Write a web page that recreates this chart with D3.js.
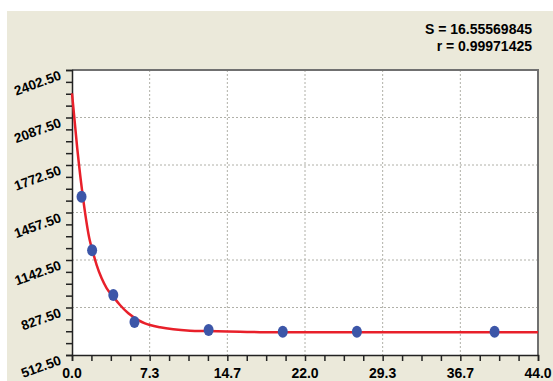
<html>
<head>
    <title>Standard curve</title>
    <script src="https://d3js.org/d3.v7.min.js"></script>
    <style>
        body { margin: 0; background: #fff; }
        text { font-family: "Liberation Sans", Arial, sans-serif; font-weight: bold; fill: #000; }
    </style>
</head>
<body>
    <svg id="chart"></svg>
    <script>
        // measured standards
        var pointX = [0.9, 1.9, 3.9, 5.9, 12.9, 19.9, 26.9, 39.9];
        var pointY = [1562, 1207, 910, 731, 678, 667, 667, 667];
        // fitted curve
        var curveX = [0, 0.5, 1.07, 1.67, 1.92, 2.33, 2.8, 3.28, 3.9, 4.53, 5.32, 6.26, 6.89, 7.36, 8.31, 9.56, 11.14, 12.72, 15.86, 17.75, 30, 44];
        var curveY = [2248, 1880, 1540, 1275, 1209, 1109, 1021, 955, 899, 844, 789, 744, 722, 711, 696, 683, 674, 671, 667, 664, 664, 664];
        var yTicks = [512.5, 827.5, 1142.5, 1457.5, 1772.5, 2087.5, 2402.5];
        var xTicks = [0, 44 / 6, 88 / 6, 22, 176 / 6, 220 / 6, 44];
        var xTickLabels = ["0.0", "7.3", "14.7", "22.0", "29.3", "36.7", "44.0"];
        var statLines = ["S = 16.55569845", "r = 0.99971425"];

        var W = 553, H = 381;
        var pLeft = 72, pTop = 70, pRight = 538, pBottom = 355;

        var svg = d3.select("#chart").attr("width", W).attr("height", H);
        svg.append("rect").attr("x", 7).attr("y", 11).attr("width", W - 7).attr("height", H - 11)
            .attr("fill", "#ebe9da");

        var x = d3.scaleLinear().domain([0, 44]).range([pLeft, pRight]);
        var y = d3.scaleLinear().domain([512.5, 2402.5]).range([pBottom, pTop]);

        svg.append("rect").attr("x", pLeft).attr("y", pTop)
            .attr("width", pRight - pLeft).attr("height", pBottom - pTop).attr("fill", "#fff");

        // grid
        svg.append("g").selectAll("line").data(yTicks.slice(1, -1)).enter().append("line")
            .attr("x1", pLeft).attr("x2", pRight)
            .attr("y1", function (d) { return y(d); }).attr("y2", function (d) { return y(d); })
            .attr("stroke", "#b0b0a8").attr("stroke-dasharray", "2,2");
        svg.append("g").selectAll("line").data(xTicks.slice(1, -1)).enter().append("line")
            .attr("y1", pTop).attr("y2", pBottom)
            .attr("x1", function (d) { return x(d); }).attr("x2", function (d) { return x(d); })
            .attr("stroke", "#b0b0a8").attr("stroke-dasharray", "2,2");

        // frame
        svg.append("path").attr("d", "M" + pLeft + "," + pTop + "H" + pRight + "V" + pBottom)
            .attr("fill", "none").attr("stroke", "#707070").attr("stroke-width", 2);

        // axes with minor ticks
        var yMinor = d3.range(0, 25).map(function (i) { return 512.5 + i * 78.75; });
        var xMinor = d3.range(0, 25).map(function (i) { return i * 44 / 24; });
        svg.append("g").attr("transform", "translate(" + pLeft + ",0)")
            .call(d3.axisLeft(y).tickValues(yMinor).tickSize(6).tickFormat(""))
            .call(function (g) { g.selectAll("line,path").attr("stroke", "#222").attr("stroke-width", 1.5); });
        svg.append("g").attr("transform", "translate(0," + pBottom + ")")
            .call(d3.axisBottom(x).tickValues(xMinor).tickSize(6).tickFormat(""))
            .call(function (g) { g.selectAll("line,path").attr("stroke", "#222").attr("stroke-width", 1.5); });

        // tick labels
        svg.append("g").selectAll("text").data(xTicks).enter().append("text")
            .attr("x", function (d) { return x(d); }).attr("y", 378)
            .attr("text-anchor", "middle").attr("font-size", 14)
            .text(function (d, i) { return xTickLabels[i]; });
        svg.append("g").selectAll("text").data(yTicks).enter().append("text")
            .attr("transform", function (d) { return "translate(62," + (y(d) + 9) + ") rotate(-20)"; })
            .attr("text-anchor", "end").attr("font-size", 13.5)
            .text(function (d) { return d3.format(".2f")(d); });

        // curve
        var line = d3.line()
            .x(function (d, i) { return x(curveX[i]); })
            .y(function (d) { return y(d); })
            .curve(d3.curveMonotoneX);
        svg.append("path").attr("d", line(curveY))
            .attr("fill", "none").attr("stroke", "#e8202a").attr("stroke-width", 2.5);

        // points
        svg.append("g").selectAll("ellipse").data(pointY).enter().append("ellipse")
            .attr("cx", function (d, i) { return x(pointX[i]); })
            .attr("cy", function (d) { return y(d); })
            .attr("rx", 5).attr("ry", 6)
            .attr("fill", "#3c56a8");

        // stats
        svg.append("g").selectAll("text").data(statLines).enter().append("text")
            .attr("x", 532).attr("y", function (d, i) { return 34 + i * 17; })
            .attr("text-anchor", "end").attr("font-size", 14)
            .text(function (d) { return d; });
    </script>
</body>
</html>
